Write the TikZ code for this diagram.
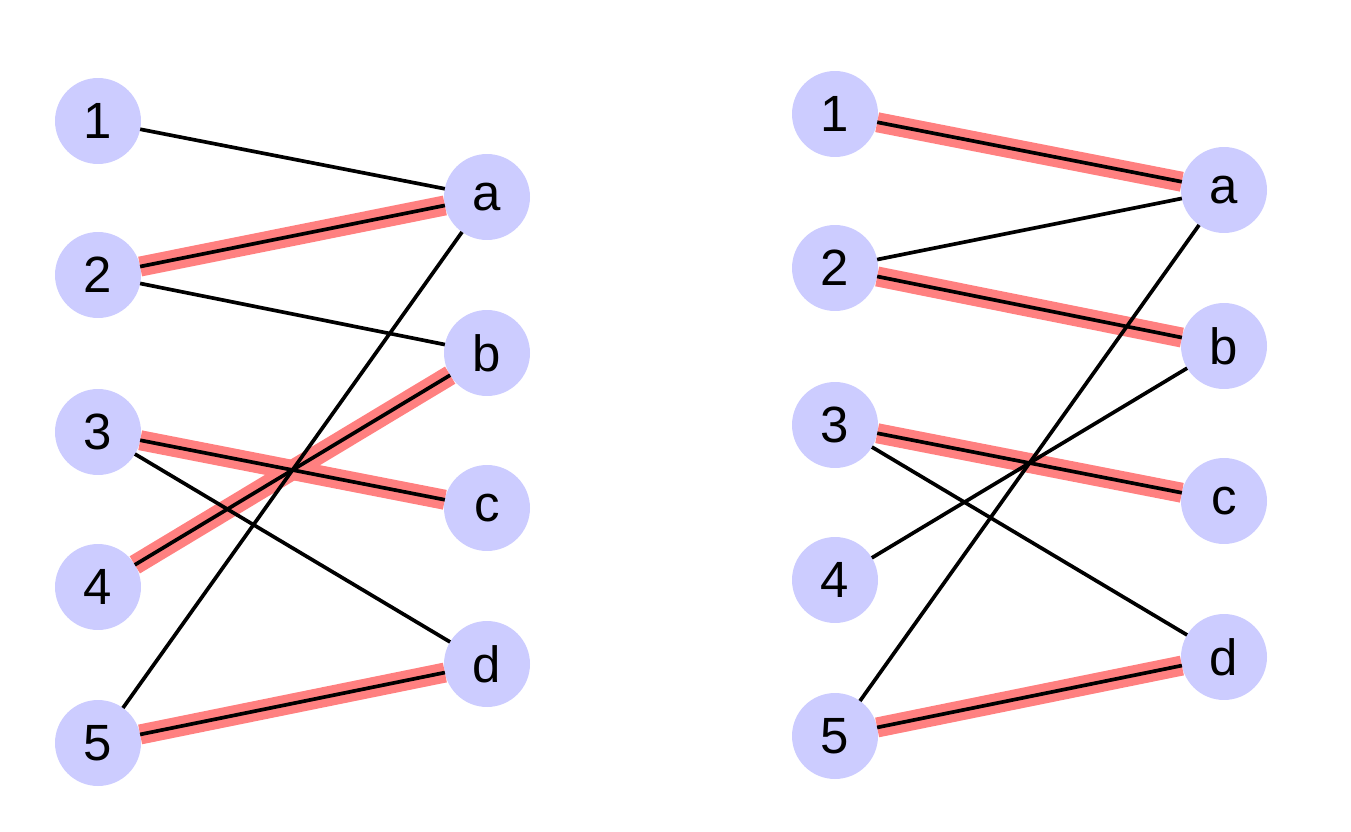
\documentclass[tikz,border=0pt]{standalone}
\usepackage{fontspec}
\setmainfont{Liberation Sans}
\definecolor{nodefill}{RGB}{204,204,255}
\definecolor{matchred}{RGB}{255,128,128}
\begin{document}
\begin{tikzpicture}[x=0.02cm,y=-0.02cm,
  vert/.style={circle,fill=nodefill,draw=none,minimum size=1.72cm,inner sep=0pt,outer sep=0pt,font=\fontsize{29}{30}\selectfont},
  plain/.style={draw=black,line width=2.1pt},
  hilite/.style={draw=matchred,line width=11.4pt,line cap=butt}]
\useasboundingbox (0,0) rectangle (1351,831);
% left graph
\begin{scope}
\node[vert] (L1) at (98,121) {1};
\node[vert] (L2) at (98,275) {2};
\node[vert] (L3) at (98,432) {3};
\node[vert] (L4) at (98,587) {4};
\node[vert] (L5) at (98,743) {5};
\node[vert] (La) at (487,197) {a};
\node[vert] (Lb) at (487,353) {b};
\node[vert] (Lc) at (487,508) {c};
\node[vert] (Ld) at (487,664) {d};
\end{scope}
% right graph
\begin{scope}
\node[vert] (R1) at (835,114) {1};
\node[vert] (R2) at (835,268) {2};
\node[vert] (R3) at (835,425) {3};
\node[vert] (R4) at (835,580) {4};
\node[vert] (R5) at (835,736) {5};
\node[vert] (Ra) at (1224,190) {a};
\node[vert] (Rb) at (1224,346) {b};
\node[vert] (Rc) at (1224,501) {c};
\node[vert] (Rd) at (1224,657) {d};
\end{scope}
% highlighted (matching) edges
\draw[hilite] (L2) -- (La);
\draw[hilite] (L3) -- (Lc);
\draw[hilite] (L4) -- (Lb);
\draw[hilite] (L5) -- (Ld);
\draw[hilite] (R1) -- (Ra);
\draw[hilite] (R2) -- (Rb);
\draw[hilite] (R3) -- (Rc);
\draw[hilite] (R5) -- (Rd);
% all edges
\draw[plain] (L1) -- (La);
\draw[plain] (L2) -- (La);
\draw[plain] (L2) -- (Lb);
\draw[plain] (L3) -- (Lc);
\draw[plain] (L3) -- (Ld);
\draw[plain] (L4) -- (Lb);
\draw[plain] (L5) -- (La);
\draw[plain] (L5) -- (Ld);
\draw[plain] (R1) -- (Ra);
\draw[plain] (R2) -- (Ra);
\draw[plain] (R2) -- (Rb);
\draw[plain] (R3) -- (Rc);
\draw[plain] (R3) -- (Rd);
\draw[plain] (R4) -- (Rb);
\draw[plain] (R5) -- (Ra);
\draw[plain] (R5) -- (Rd);
\end{tikzpicture}
\end{document}
